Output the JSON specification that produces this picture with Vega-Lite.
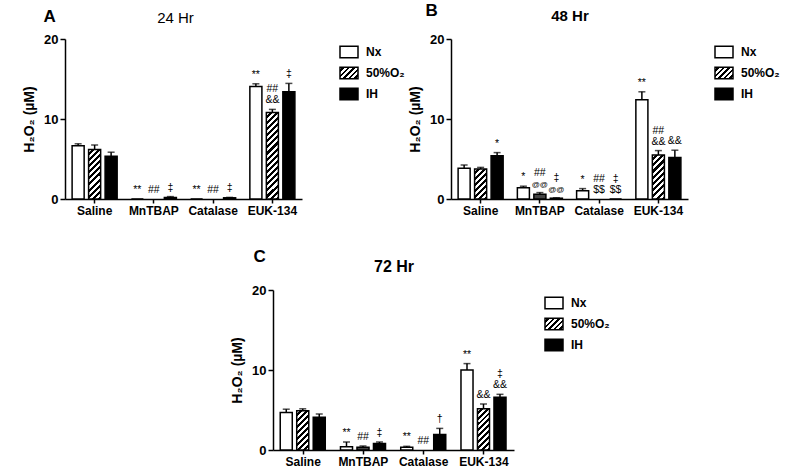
{
"$schema": "https://vega.github.io/schema/vega-lite/v6.json",
"padding": {"left": 22, "top": 2, "right": 0, "bottom": 0},
"background": "white",
"config": {
  "font": "Liberation Sans",
  "view": {"stroke": null},
  "axis": {"domainColor": "black", "domainWidth": 1.5, "tickColor": "black", "tickWidth": 1.5, "labelColor": "black", "labelFontSize": 12, "labelFontWeight": "bold", "titleColor": "black", "titleFontSize": 14, "titleFontWeight": "bold", "grid": false},
  "axisX": {"tickSize": 4, "labelPadding": 2},
  "axisY": {"tickSize": 5, "labelPadding": 2, "titlePadding": 7, "labelFontSize": 13},
  "legend": {"labelColor": "black", "title": null, "orient": "right", "padding": 3, "symbolType": "M-1,-0.65H1V0.65H-1Z", "symbolSize": 324, "symbolStrokeColor": "black", "symbolStrokeWidth": 1.5, "labelFontSize": 12, "labelFontWeight": "bold", "labelOffset": 7, "rowPadding": 2},
  "title": {"color": "black"}
},
"data": {"values": [
  {"panel": "A", "cat": "Saline", "grp": "Nx", "val": 6.65, "err": 6.9, "note": "", "note2": ""},
  {"panel": "A", "cat": "Saline", "grp": "50%O₂", "val": 6.2, "err": 6.75, "note": "", "note2": ""},
  {"panel": "A", "cat": "Saline", "grp": "IH", "val": 5.35, "err": 5.85, "note": "", "note2": ""},
  {"panel": "A", "cat": "MnTBAP", "grp": "Nx", "val": 0, "err": 0, "note": "**", "note2": ""},
  {"panel": "A", "cat": "MnTBAP", "grp": "50%O₂", "val": 0, "err": 0, "note": "##", "note2": ""},
  {"panel": "A", "cat": "MnTBAP", "grp": "IH", "val": 0.2, "err": 0.3, "note": "‡", "note2": ""},
  {"panel": "A", "cat": "Catalase", "grp": "Nx", "val": 0, "err": 0, "note": "**", "note2": ""},
  {"panel": "A", "cat": "Catalase", "grp": "50%O₂", "val": 0, "err": 0, "note": "##", "note2": ""},
  {"panel": "A", "cat": "Catalase", "grp": "IH", "val": 0.15, "err": 0.2, "note": "‡", "note2": ""},
  {"panel": "A", "cat": "EUK-134", "grp": "Nx", "val": 14.05, "err": 14.4, "note": "**", "note2": ""},
  {"panel": "A", "cat": "EUK-134", "grp": "50%O₂", "val": 10.8, "err": 11.2, "note": "&&", "note2": "##"},
  {"panel": "A", "cat": "EUK-134", "grp": "IH", "val": 13.4, "err": 14.45, "note": "‡", "note2": ""},
  {"panel": "B", "cat": "Saline", "grp": "Nx", "val": 3.83, "err": 4.25, "note": "", "note2": ""},
  {"panel": "B", "cat": "Saline", "grp": "50%O₂", "val": 3.75, "err": 3.95, "note": "", "note2": ""},
  {"panel": "B", "cat": "Saline", "grp": "IH", "val": 5.42, "err": 5.8, "note": "*", "note2": ""},
  {"panel": "B", "cat": "MnTBAP", "grp": "Nx", "val": 1.42, "err": 1.6, "note": "*", "note2": ""},
  {"panel": "B", "cat": "MnTBAP", "grp": "50%O₂", "val": 0.58, "err": 0.8, "note": "@@", "note2": "##"},
  {"panel": "B", "cat": "MnTBAP", "grp": "IH", "val": 0.1, "err": 0.15, "note": "@@", "note2": "‡"},
  {"panel": "B", "cat": "Catalase", "grp": "Nx", "val": 1.04, "err": 1.3, "note": "*", "note2": ""},
  {"panel": "B", "cat": "Catalase", "grp": "50%O₂", "val": 0, "err": 0, "note": "$$", "note2": "##"},
  {"panel": "B", "cat": "Catalase", "grp": "IH", "val": 0, "err": 0, "note": "$$", "note2": "‡"},
  {"panel": "B", "cat": "EUK-134", "grp": "Nx", "val": 12.4, "err": 13.4, "note": "**", "note2": ""},
  {"panel": "B", "cat": "EUK-134", "grp": "50%O₂", "val": 5.5, "err": 6.05, "note": "&&", "note2": "##"},
  {"panel": "B", "cat": "EUK-134", "grp": "IH", "val": 5.2, "err": 6.1, "note": "&&", "note2": ""},
  {"panel": "C", "cat": "Saline", "grp": "Nx", "val": 4.7, "err": 5.1, "note": "", "note2": ""},
  {"panel": "C", "cat": "Saline", "grp": "50%O₂", "val": 4.9, "err": 5.15, "note": "", "note2": ""},
  {"panel": "C", "cat": "Saline", "grp": "IH", "val": 4.1, "err": 4.5, "note": "", "note2": ""},
  {"panel": "C", "cat": "MnTBAP", "grp": "Nx", "val": 0.42, "err": 1.0, "note": "**", "note2": ""},
  {"panel": "C", "cat": "MnTBAP", "grp": "50%O₂", "val": 0.33, "err": 0.5, "note": "##", "note2": ""},
  {"panel": "C", "cat": "MnTBAP", "grp": "IH", "val": 0.8, "err": 1.0, "note": "‡", "note2": ""},
  {"panel": "C", "cat": "Catalase", "grp": "Nx", "val": 0.33, "err": 0.46, "note": "**", "note2": ""},
  {"panel": "C", "cat": "Catalase", "grp": "50%O₂", "val": 0, "err": 0, "note": "##", "note2": ""},
  {"panel": "C", "cat": "Catalase", "grp": "IH", "val": 1.93, "err": 2.7, "note": "†", "note2": ""},
  {"panel": "C", "cat": "EUK-134", "grp": "Nx", "val": 10.0, "err": 10.8, "note": "**", "note2": ""},
  {"panel": "C", "cat": "EUK-134", "grp": "50%O₂", "val": 5.16, "err": 5.75, "note": "&&", "note2": ""},
  {"panel": "C", "cat": "EUK-134", "grp": "IH", "val": 6.58, "err": 6.96, "note": "&&", "note2": "‡"}
]},
"spacing": 32,
"resolve": {"scale": {"fill": "independent"}, "legend": {"fill": "independent"}},
"vconcat": [
{"hconcat": [
{
 "width": 237, "height": 160,
 "title": {"text": "A", "anchor": "start", "frame": "bounds", "fontSize": 17, "fontWeight": "bold", "dx": 21, "offset": -16},
 "transform": [{"filter": "datum.panel === 'A'"}],
 "resolve": {"axis": {"x": "independent"}},
 "layer": [
  {"transform": [{"filter": "datum.grp !== '50%O₂'"}],
   "mark": {"type": "bar", "stroke": "black", "strokeWidth": 1.5},
   "encoding": {
    "x": {"field": "cat", "type": "nominal", "scale": {"domain": ["Saline","MnTBAP","Catalase","EUK-134"], "paddingInner": 0.24, "paddingOuter": 0.12}, "axis": {"title": null, "labelAngle": 0, "orient": "bottom"}},
    "xOffset": {"field": "grp", "type": "nominal", "scale": {"domain": ["Nx","50%O₂","IH"], "paddingInner": 0.27, "paddingOuter": 0}},
    "y": {"field": "val", "type": "quantitative", "title": "H₂O₂ (µM)", "scale": {"domain": [0,20], "nice": false}, "axis": {"values": [0,5,10,15,20]}},
    "fill": {"field": "grp", "type": "nominal", "scale": {"domain": ["Nx","50%O₂","IH"], "range": ["white", {"expr": "{gradient: 'linear', x1: 0, y1: 0, x2: 1.16, y2: 0.754, stops: [{offset: 0, color: '#fff'}, {offset: 0.0909, color: '#fff'}, {offset: 0.0909, color: '#000'}, {offset: 0.1818, color: '#000'}, {offset: 0.1818, color: '#fff'}, {offset: 0.2727, color: '#fff'}, {offset: 0.2727, color: '#000'}, {offset: 0.3636, color: '#000'}, {offset: 0.3636, color: '#fff'}, {offset: 0.4545, color: '#fff'}, {offset: 0.4545, color: '#000'}, {offset: 0.5455, color: '#000'}, {offset: 0.5455, color: '#fff'}, {offset: 0.6364, color: '#fff'}, {offset: 0.6364, color: '#000'}, {offset: 0.7273, color: '#000'}, {offset: 0.7273, color: '#fff'}, {offset: 0.8182, color: '#fff'}, {offset: 0.8182, color: '#000'}, {offset: 0.9091, color: '#000'}, {offset: 0.9091, color: '#fff'}, {offset: 1, color: '#fff'}]}"}, "black"]},
      "legend": {"offset": 34}}
   }},
  {"transform": [{"filter": "datum.grp === '50%O₂' && datum.cat === 'Saline'"}],
   "mark": {"type": "bar", "stroke": "black", "strokeWidth": 1.5, "fill": {"gradient": "linear", "x1": 0, "y1": 0, "x2": 0.2839, "y2": 1.1733, "stops": [{"offset":0,"color":"#fff"},{"offset":0.05,"color":"#fff"},{"offset":0.05,"color":"#000"},{"offset":0.1,"color":"#000"},{"offset":0.1,"color":"#fff"},{"offset":0.15,"color":"#fff"},{"offset":0.15,"color":"#000"},{"offset":0.2,"color":"#000"},{"offset":0.2,"color":"#fff"},{"offset":0.25,"color":"#fff"},{"offset":0.25,"color":"#000"},{"offset":0.3,"color":"#000"},{"offset":0.3,"color":"#fff"},{"offset":0.35,"color":"#fff"},{"offset":0.35,"color":"#000"},{"offset":0.4,"color":"#000"},{"offset":0.4,"color":"#fff"},{"offset":0.45,"color":"#fff"},{"offset":0.45,"color":"#000"},{"offset":0.5,"color":"#000"},{"offset":0.5,"color":"#fff"},{"offset":0.55,"color":"#fff"},{"offset":0.55,"color":"#000"},{"offset":0.6,"color":"#000"},{"offset":0.6,"color":"#fff"},{"offset":0.65,"color":"#fff"},{"offset":0.65,"color":"#000"},{"offset":0.7,"color":"#000"},{"offset":0.7,"color":"#fff"},{"offset":0.75,"color":"#fff"},{"offset":0.75,"color":"#000"},{"offset":0.8,"color":"#000"},{"offset":0.8,"color":"#fff"},{"offset":0.85,"color":"#fff"},{"offset":0.85,"color":"#000"},{"offset":0.9,"color":"#000"},{"offset":0.9,"color":"#fff"},{"offset":0.95,"color":"#fff"},{"offset":0.95,"color":"#000"},{"offset":1,"color":"#000"}]}},
   "encoding": {
    "x": {"field": "cat", "type": "nominal", "scale": {"domain": ["Saline","MnTBAP","Catalase","EUK-134"]}, "axis": null},
    "xOffset": {"field": "grp", "type": "nominal", "scale": {"domain": ["Nx","50%O₂","IH"]}},
    "y": {"field": "val", "type": "quantitative", "title": "H₂O₂ (µM)"}
   }},
  {"transform": [{"filter": "datum.grp === '50%O₂' && datum.cat === 'EUK-134'"}],
   "mark": {"type": "bar", "stroke": "black", "strokeWidth": 1.5, "fill": {"gradient": "linear", "x1": 0, "y1": 0, "x2": 0.1552, "y2": 1.1173, "stops": [{"offset":0,"color":"#fff"},{"offset":0.03125,"color":"#fff"},{"offset":0.03125,"color":"#000"},{"offset":0.0625,"color":"#000"},{"offset":0.0625,"color":"#fff"},{"offset":0.09375,"color":"#fff"},{"offset":0.09375,"color":"#000"},{"offset":0.125,"color":"#000"},{"offset":0.125,"color":"#fff"},{"offset":0.15625,"color":"#fff"},{"offset":0.15625,"color":"#000"},{"offset":0.1875,"color":"#000"},{"offset":0.1875,"color":"#fff"},{"offset":0.21875,"color":"#fff"},{"offset":0.21875,"color":"#000"},{"offset":0.25,"color":"#000"},{"offset":0.25,"color":"#fff"},{"offset":0.28125,"color":"#fff"},{"offset":0.28125,"color":"#000"},{"offset":0.3125,"color":"#000"},{"offset":0.3125,"color":"#fff"},{"offset":0.34375,"color":"#fff"},{"offset":0.34375,"color":"#000"},{"offset":0.375,"color":"#000"},{"offset":0.375,"color":"#fff"},{"offset":0.40625,"color":"#fff"},{"offset":0.40625,"color":"#000"},{"offset":0.4375,"color":"#000"},{"offset":0.4375,"color":"#fff"},{"offset":0.46875,"color":"#fff"},{"offset":0.46875,"color":"#000"},{"offset":0.5,"color":"#000"},{"offset":0.5,"color":"#fff"},{"offset":0.53125,"color":"#fff"},{"offset":0.53125,"color":"#000"},{"offset":0.5625,"color":"#000"},{"offset":0.5625,"color":"#fff"},{"offset":0.59375,"color":"#fff"},{"offset":0.59375,"color":"#000"},{"offset":0.625,"color":"#000"},{"offset":0.625,"color":"#fff"},{"offset":0.65625,"color":"#fff"},{"offset":0.65625,"color":"#000"},{"offset":0.6875,"color":"#000"},{"offset":0.6875,"color":"#fff"},{"offset":0.71875,"color":"#fff"},{"offset":0.71875,"color":"#000"},{"offset":0.75,"color":"#000"},{"offset":0.75,"color":"#fff"},{"offset":0.78125,"color":"#fff"},{"offset":0.78125,"color":"#000"},{"offset":0.8125,"color":"#000"},{"offset":0.8125,"color":"#fff"},{"offset":0.84375,"color":"#fff"},{"offset":0.84375,"color":"#000"},{"offset":0.875,"color":"#000"},{"offset":0.875,"color":"#fff"},{"offset":0.90625,"color":"#fff"},{"offset":0.90625,"color":"#000"},{"offset":0.9375,"color":"#000"},{"offset":0.9375,"color":"#fff"},{"offset":0.96875,"color":"#fff"},{"offset":0.96875,"color":"#000"},{"offset":1,"color":"#000"}]}},
   "encoding": {
    "x": {"field": "cat", "type": "nominal", "scale": {"domain": ["Saline","MnTBAP","Catalase","EUK-134"]}, "axis": null},
    "xOffset": {"field": "grp", "type": "nominal", "scale": {"domain": ["Nx","50%O₂","IH"]}},
    "y": {"field": "val", "type": "quantitative", "title": "H₂O₂ (µM)"}
   }},
  {"transform": [{"filter": "datum.err > datum.val"}],
   "mark": {"type": "rule", "color": "black", "strokeWidth": 1.5},
   "encoding": {
    "x": {"field": "cat", "type": "nominal", "scale": {"domain": ["Saline","MnTBAP","Catalase","EUK-134"]}, "axis": {"orient": "top", "title": "24 Hr", "labels": false, "ticks": false, "domain": false, "titleFontSize": 15, "titleFontWeight": "normal", "titlePadding": 14, "titleX": 110, "titleAlign": "center"}},
    "xOffset": {"field": "grp", "type": "nominal", "scale": {"domain": ["Nx","50%O₂","IH"]}},
    "y": {"field": "val", "type": "quantitative", "title": "H₂O₂ (µM)"},
    "y2": {"field": "err"}
   }},
  {"transform": [{"filter": "datum.err > datum.val"}],
   "mark": {"type": "tick", "color": "black", "orient": "horizontal", "size": 7, "thickness": 1.5},
   "encoding": {
    "x": {"field": "cat", "type": "nominal", "scale": {"domain": ["Saline","MnTBAP","Catalase","EUK-134"]}, "axis": null},
    "xOffset": {"field": "grp", "type": "nominal", "scale": {"domain": ["Nx","50%O₂","IH"]}},
    "y": {"field": "err", "type": "quantitative", "title": "H₂O₂ (µM)"}
   }},
  {"transform": [{"filter": "datum.note !== ''"}],
   "mark": {"type": "text", "baseline": "bottom", "dy": -4, "color": "black"},
   "encoding": {
    "x": {"field": "cat", "type": "nominal", "scale": {"domain": ["Saline","MnTBAP","Catalase","EUK-134"]}, "axis": null},
    "xOffset": {"field": "grp", "type": "nominal", "scale": {"domain": ["Nx","50%O₂","IH"]}},
    "y": {"field": "err", "type": "quantitative", "title": "H₂O₂ (µM)"},
    "size": {"condition": {"test": "datum.note === '@@'", "value": 8}, "value": 10.5},
    "text": {"field": "note"}
   }},
  {"transform": [{"filter": "datum.note2 !== ''"}],
   "mark": {"type": "text", "baseline": "bottom", "dy": -15, "fontSize": 10.5, "color": "black"},
   "encoding": {
    "x": {"field": "cat", "type": "nominal", "scale": {"domain": ["Saline","MnTBAP","Catalase","EUK-134"]}, "axis": null},
    "xOffset": {"field": "grp", "type": "nominal", "scale": {"domain": ["Nx","50%O₂","IH"]}},
    "y": {"field": "err", "type": "quantitative", "title": "H₂O₂ (µM)"},
    "text": {"field": "note2"}
   }}
 ]
},
{
 "width": 237, "height": 160,
 "title": {"text": "B", "anchor": "start", "frame": "bounds", "fontSize": 17, "fontWeight": "bold", "dx": 17, "offset": -12},
 "transform": [{"filter": "datum.panel === 'B'"}],
 "resolve": {"axis": {"x": "independent"}},
 "layer": [
  {"transform": [{"filter": "datum.grp !== '50%O₂'"}],
   "mark": {"type": "bar", "stroke": "black", "strokeWidth": 1.5},
   "encoding": {
    "x": {"field": "cat", "type": "nominal", "scale": {"domain": ["Saline","MnTBAP","Catalase","EUK-134"], "paddingInner": 0.24, "paddingOuter": 0.12}, "axis": {"title": null, "labelAngle": 0, "orient": "bottom"}},
    "xOffset": {"field": "grp", "type": "nominal", "scale": {"domain": ["Nx","50%O₂","IH"], "paddingInner": 0.27, "paddingOuter": 0}},
    "y": {"field": "val", "type": "quantitative", "title": "H₂O₂ (µM)", "scale": {"domain": [0,20], "nice": false}, "axis": {"values": [0,5,10,15,20]}},
    "fill": {"field": "grp", "type": "nominal", "scale": {"domain": ["Nx","50%O₂","IH"], "range": ["white", {"expr": "{gradient: 'linear', x1: 0, y1: 0, x2: 1.16, y2: 0.754, stops: [{offset: 0, color: '#fff'}, {offset: 0.0909, color: '#fff'}, {offset: 0.0909, color: '#000'}, {offset: 0.1818, color: '#000'}, {offset: 0.1818, color: '#fff'}, {offset: 0.2727, color: '#fff'}, {offset: 0.2727, color: '#000'}, {offset: 0.3636, color: '#000'}, {offset: 0.3636, color: '#fff'}, {offset: 0.4545, color: '#fff'}, {offset: 0.4545, color: '#000'}, {offset: 0.5455, color: '#000'}, {offset: 0.5455, color: '#fff'}, {offset: 0.6364, color: '#fff'}, {offset: 0.6364, color: '#000'}, {offset: 0.7273, color: '#000'}, {offset: 0.7273, color: '#fff'}, {offset: 0.8182, color: '#fff'}, {offset: 0.8182, color: '#000'}, {offset: 0.9091, color: '#000'}, {offset: 0.9091, color: '#fff'}, {offset: 1, color: '#fff'}]}"}, "black"]},
      "legend": {"offset": 23}}
   }},
  {"transform": [{"filter": "datum.grp === '50%O₂' && datum.cat === 'Saline'"}],
   "mark": {"type": "bar", "stroke": "black", "strokeWidth": 1.5, "fill": {"gradient": "linear", "x1": 0, "y1": 0, "x2": 0.4828, "y2": 1.2069, "stops": [{"offset":0,"color":"#fff"},{"offset":0.0714,"color":"#fff"},{"offset":0.0714,"color":"#000"},{"offset":0.1429,"color":"#000"},{"offset":0.1429,"color":"#fff"},{"offset":0.2143,"color":"#fff"},{"offset":0.2143,"color":"#000"},{"offset":0.2857,"color":"#000"},{"offset":0.2857,"color":"#fff"},{"offset":0.3571,"color":"#fff"},{"offset":0.3571,"color":"#000"},{"offset":0.4286,"color":"#000"},{"offset":0.4286,"color":"#fff"},{"offset":0.5,"color":"#fff"},{"offset":0.5,"color":"#000"},{"offset":0.5714,"color":"#000"},{"offset":0.5714,"color":"#fff"},{"offset":0.6429,"color":"#fff"},{"offset":0.6429,"color":"#000"},{"offset":0.7143,"color":"#000"},{"offset":0.7143,"color":"#fff"},{"offset":0.7857,"color":"#fff"},{"offset":0.7857,"color":"#000"},{"offset":0.8571,"color":"#000"},{"offset":0.8571,"color":"#fff"},{"offset":0.9286,"color":"#fff"},{"offset":0.9286,"color":"#000"},{"offset":1,"color":"#000"}]}},
   "encoding": {
    "x": {"field": "cat", "type": "nominal", "scale": {"domain": ["Saline","MnTBAP","Catalase","EUK-134"]}, "axis": null},
    "xOffset": {"field": "grp", "type": "nominal", "scale": {"domain": ["Nx","50%O₂","IH"]}},
    "y": {"field": "val", "type": "quantitative", "title": "H₂O₂ (µM)"}
   }},
  {"transform": [{"filter": "datum.grp === '50%O₂' && datum.cat === 'EUK-134'"}],
   "mark": {"type": "bar", "stroke": "black", "strokeWidth": 1.5, "fill": {"gradient": "linear", "x1": 0, "y1": 0, "x2": 0.3231, "y2": 1.1846, "stops": [{"offset":0,"color":"#fff"},{"offset":0.0556,"color":"#fff"},{"offset":0.0556,"color":"#000"},{"offset":0.1111,"color":"#000"},{"offset":0.1111,"color":"#fff"},{"offset":0.1667,"color":"#fff"},{"offset":0.1667,"color":"#000"},{"offset":0.2222,"color":"#000"},{"offset":0.2222,"color":"#fff"},{"offset":0.2778,"color":"#fff"},{"offset":0.2778,"color":"#000"},{"offset":0.3333,"color":"#000"},{"offset":0.3333,"color":"#fff"},{"offset":0.3889,"color":"#fff"},{"offset":0.3889,"color":"#000"},{"offset":0.4444,"color":"#000"},{"offset":0.4444,"color":"#fff"},{"offset":0.5,"color":"#fff"},{"offset":0.5,"color":"#000"},{"offset":0.5556,"color":"#000"},{"offset":0.5556,"color":"#fff"},{"offset":0.6111,"color":"#fff"},{"offset":0.6111,"color":"#000"},{"offset":0.6667,"color":"#000"},{"offset":0.6667,"color":"#fff"},{"offset":0.7222,"color":"#fff"},{"offset":0.7222,"color":"#000"},{"offset":0.7778,"color":"#000"},{"offset":0.7778,"color":"#fff"},{"offset":0.8333,"color":"#fff"},{"offset":0.8333,"color":"#000"},{"offset":0.8889,"color":"#000"},{"offset":0.8889,"color":"#fff"},{"offset":0.9444,"color":"#fff"},{"offset":0.9444,"color":"#000"},{"offset":1,"color":"#000"}]}},
   "encoding": {
    "x": {"field": "cat", "type": "nominal", "scale": {"domain": ["Saline","MnTBAP","Catalase","EUK-134"]}, "axis": null},
    "xOffset": {"field": "grp", "type": "nominal", "scale": {"domain": ["Nx","50%O₂","IH"]}},
    "y": {"field": "val", "type": "quantitative", "title": "H₂O₂ (µM)"}
   }},
  {"transform": [{"filter": "datum.grp === '50%O₂' && datum.val > 0 && datum.val < 1"}],
   "mark": {"type": "bar", "stroke": "black", "strokeWidth": 1.5, "fill": "#444444"},
   "encoding": {
    "x": {"field": "cat", "type": "nominal", "scale": {"domain": ["Saline","MnTBAP","Catalase","EUK-134"]}, "axis": null},
    "xOffset": {"field": "grp", "type": "nominal", "scale": {"domain": ["Nx","50%O₂","IH"]}},
    "y": {"field": "val", "type": "quantitative", "title": "H₂O₂ (µM)"}
   }},
  {"transform": [{"filter": "datum.err > datum.val"}],
   "mark": {"type": "rule", "color": "black", "strokeWidth": 1.5},
   "encoding": {
    "x": {"field": "cat", "type": "nominal", "scale": {"domain": ["Saline","MnTBAP","Catalase","EUK-134"]}, "axis": {"orient": "top", "title": "48 Hr", "labels": false, "ticks": false, "domain": false, "titleFontSize": 15, "titleFontWeight": "bold", "titlePadding": 16}},
    "xOffset": {"field": "grp", "type": "nominal", "scale": {"domain": ["Nx","50%O₂","IH"]}},
    "y": {"field": "val", "type": "quantitative", "title": "H₂O₂ (µM)"},
    "y2": {"field": "err"}
   }},
  {"transform": [{"filter": "datum.err > datum.val"}],
   "mark": {"type": "tick", "color": "black", "orient": "horizontal", "size": 7, "thickness": 1.5},
   "encoding": {
    "x": {"field": "cat", "type": "nominal", "scale": {"domain": ["Saline","MnTBAP","Catalase","EUK-134"]}, "axis": null},
    "xOffset": {"field": "grp", "type": "nominal", "scale": {"domain": ["Nx","50%O₂","IH"]}},
    "y": {"field": "err", "type": "quantitative", "title": "H₂O₂ (µM)"}
   }},
  {"transform": [{"filter": "datum.note !== ''"}],
   "mark": {"type": "text", "baseline": "bottom", "dy": -4, "color": "black"},
   "encoding": {
    "x": {"field": "cat", "type": "nominal", "scale": {"domain": ["Saline","MnTBAP","Catalase","EUK-134"]}, "axis": null},
    "xOffset": {"field": "grp", "type": "nominal", "scale": {"domain": ["Nx","50%O₂","IH"]}},
    "y": {"field": "err", "type": "quantitative", "title": "H₂O₂ (µM)"},
    "size": {"condition": {"test": "datum.note === '@@'", "value": 8}, "value": 10.5},
    "text": {"field": "note"}
   }},
  {"transform": [{"filter": "datum.note2 !== ''"}],
   "mark": {"type": "text", "baseline": "bottom", "dy": -15, "fontSize": 10.5, "color": "black"},
   "encoding": {
    "x": {"field": "cat", "type": "nominal", "scale": {"domain": ["Saline","MnTBAP","Catalase","EUK-134"]}, "axis": null},
    "xOffset": {"field": "grp", "type": "nominal", "scale": {"domain": ["Nx","50%O₂","IH"]}},
    "y": {"field": "err", "type": "quantitative", "title": "H₂O₂ (µM)"},
    "text": {"field": "note2"}
   }}
 ]
}
], "spacing": 0, "resolve": {"scale": {"fill": "independent"}, "legend": {"fill": "independent"}}},
{"hconcat": [
{"width": 165, "height": 10, "data": {"values": []}, "mark": "point", "encoding": {}},
{
 "width": 241, "height": 160,
 "title": {"text": "C", "anchor": "start", "frame": "bounds", "fontSize": 17, "fontWeight": "bold", "dx": 23, "offset": -8},
 "transform": [{"filter": "datum.panel === 'C'"}],
 "resolve": {"axis": {"x": "independent"}},
 "layer": [
  {"transform": [{"filter": "datum.grp !== '50%O₂'"}],
   "mark": {"type": "bar", "stroke": "black", "strokeWidth": 1.5},
   "encoding": {
    "x": {"field": "cat", "type": "nominal", "scale": {"domain": ["Saline","MnTBAP","Catalase","EUK-134"], "paddingInner": 0.24, "paddingOuter": 0.12}, "axis": {"title": null, "labelAngle": 0, "orient": "bottom"}},
    "xOffset": {"field": "grp", "type": "nominal", "scale": {"domain": ["Nx","50%O₂","IH"], "paddingInner": 0.27, "paddingOuter": 0}},
    "y": {"field": "val", "type": "quantitative", "title": "H₂O₂ (µM)", "scale": {"domain": [0,20], "nice": false}, "axis": {"values": [0,5,10,15,20]}},
    "fill": {"field": "grp", "type": "nominal", "scale": {"domain": ["Nx","50%O₂","IH"], "range": ["white", {"expr": "{gradient: 'linear', x1: 0, y1: 0, x2: 1.16, y2: 0.754, stops: [{offset: 0, color: '#fff'}, {offset: 0.0909, color: '#fff'}, {offset: 0.0909, color: '#000'}, {offset: 0.1818, color: '#000'}, {offset: 0.1818, color: '#fff'}, {offset: 0.2727, color: '#fff'}, {offset: 0.2727, color: '#000'}, {offset: 0.3636, color: '#000'}, {offset: 0.3636, color: '#fff'}, {offset: 0.4545, color: '#fff'}, {offset: 0.4545, color: '#000'}, {offset: 0.5455, color: '#000'}, {offset: 0.5455, color: '#fff'}, {offset: 0.6364, color: '#fff'}, {offset: 0.6364, color: '#000'}, {offset: 0.7273, color: '#000'}, {offset: 0.7273, color: '#fff'}, {offset: 0.8182, color: '#fff'}, {offset: 0.8182, color: '#000'}, {offset: 0.9091, color: '#000'}, {offset: 0.9091, color: '#fff'}, {offset: 1, color: '#fff'}]}"}, "black"]},
      "legend": {"offset": 27}}
   }},
  {"transform": [{"filter": "datum.grp === '50%O₂' && datum.cat === 'Saline'"}],
   "mark": {"type": "bar", "stroke": "black", "strokeWidth": 1.5, "fill": {"gradient": "linear", "x1": 0, "y1": 0, "x2": 0.3656, "y2": 1.1942, "stops": [{"offset":0,"color":"#fff"},{"offset":0.0588,"color":"#fff"},{"offset":0.0588,"color":"#000"},{"offset":0.1176,"color":"#000"},{"offset":0.1176,"color":"#fff"},{"offset":0.1765,"color":"#fff"},{"offset":0.1765,"color":"#000"},{"offset":0.2353,"color":"#000"},{"offset":0.2353,"color":"#fff"},{"offset":0.2941,"color":"#fff"},{"offset":0.2941,"color":"#000"},{"offset":0.3529,"color":"#000"},{"offset":0.3529,"color":"#fff"},{"offset":0.4118,"color":"#fff"},{"offset":0.4118,"color":"#000"},{"offset":0.4706,"color":"#000"},{"offset":0.4706,"color":"#fff"},{"offset":0.5294,"color":"#fff"},{"offset":0.5294,"color":"#000"},{"offset":0.5882,"color":"#000"},{"offset":0.5882,"color":"#fff"},{"offset":0.6471,"color":"#fff"},{"offset":0.6471,"color":"#000"},{"offset":0.7059,"color":"#000"},{"offset":0.7059,"color":"#fff"},{"offset":0.7647,"color":"#fff"},{"offset":0.7647,"color":"#000"},{"offset":0.8235,"color":"#000"},{"offset":0.8235,"color":"#fff"},{"offset":0.8824,"color":"#fff"},{"offset":0.8824,"color":"#000"},{"offset":0.9412,"color":"#000"},{"offset":0.9412,"color":"#fff"},{"offset":1,"color":"#fff"}]}},
   "encoding": {
    "x": {"field": "cat", "type": "nominal", "scale": {"domain": ["Saline","MnTBAP","Catalase","EUK-134"]}, "axis": null},
    "xOffset": {"field": "grp", "type": "nominal", "scale": {"domain": ["Nx","50%O₂","IH"]}},
    "y": {"field": "val", "type": "quantitative", "title": "H₂O₂ (µM)"}
   }},
  {"transform": [{"filter": "datum.grp === '50%O₂' && datum.cat === 'EUK-134'"}],
   "mark": {"type": "bar", "stroke": "black", "strokeWidth": 1.5, "fill": {"gradient": "linear", "x1": 0, "y1": 0, "x2": 0.346, "y2": 1.1901, "stops": [{"offset":0,"color":"#fff"},{"offset":0.0556,"color":"#fff"},{"offset":0.0556,"color":"#000"},{"offset":0.1111,"color":"#000"},{"offset":0.1111,"color":"#fff"},{"offset":0.1667,"color":"#fff"},{"offset":0.1667,"color":"#000"},{"offset":0.2222,"color":"#000"},{"offset":0.2222,"color":"#fff"},{"offset":0.2778,"color":"#fff"},{"offset":0.2778,"color":"#000"},{"offset":0.3333,"color":"#000"},{"offset":0.3333,"color":"#fff"},{"offset":0.3889,"color":"#fff"},{"offset":0.3889,"color":"#000"},{"offset":0.4444,"color":"#000"},{"offset":0.4444,"color":"#fff"},{"offset":0.5,"color":"#fff"},{"offset":0.5,"color":"#000"},{"offset":0.5556,"color":"#000"},{"offset":0.5556,"color":"#fff"},{"offset":0.6111,"color":"#fff"},{"offset":0.6111,"color":"#000"},{"offset":0.6667,"color":"#000"},{"offset":0.6667,"color":"#fff"},{"offset":0.7222,"color":"#fff"},{"offset":0.7222,"color":"#000"},{"offset":0.7778,"color":"#000"},{"offset":0.7778,"color":"#fff"},{"offset":0.8333,"color":"#fff"},{"offset":0.8333,"color":"#000"},{"offset":0.8889,"color":"#000"},{"offset":0.8889,"color":"#fff"},{"offset":0.9444,"color":"#fff"},{"offset":0.9444,"color":"#000"},{"offset":1,"color":"#000"}]}},
   "encoding": {
    "x": {"field": "cat", "type": "nominal", "scale": {"domain": ["Saline","MnTBAP","Catalase","EUK-134"]}, "axis": null},
    "xOffset": {"field": "grp", "type": "nominal", "scale": {"domain": ["Nx","50%O₂","IH"]}},
    "y": {"field": "val", "type": "quantitative", "title": "H₂O₂ (µM)"}
   }},
  {"transform": [{"filter": "datum.grp === '50%O₂' && datum.val > 0 && datum.val < 1"}],
   "mark": {"type": "bar", "stroke": "black", "strokeWidth": 1.5, "fill": "#444444"},
   "encoding": {
    "x": {"field": "cat", "type": "nominal", "scale": {"domain": ["Saline","MnTBAP","Catalase","EUK-134"]}, "axis": null},
    "xOffset": {"field": "grp", "type": "nominal", "scale": {"domain": ["Nx","50%O₂","IH"]}},
    "y": {"field": "val", "type": "quantitative", "title": "H₂O₂ (µM)"}
   }},
  {"transform": [{"filter": "datum.err > datum.val"}],
   "mark": {"type": "rule", "color": "black", "strokeWidth": 1.5},
   "encoding": {
    "x": {"field": "cat", "type": "nominal", "scale": {"domain": ["Saline","MnTBAP","Catalase","EUK-134"]}, "axis": {"orient": "top", "title": "72 Hr", "labels": false, "ticks": false, "domain": false, "titleFontSize": 16, "titleFontWeight": "bold", "titlePadding": 16}},
    "xOffset": {"field": "grp", "type": "nominal", "scale": {"domain": ["Nx","50%O₂","IH"]}},
    "y": {"field": "val", "type": "quantitative", "title": "H₂O₂ (µM)"},
    "y2": {"field": "err"}
   }},
  {"transform": [{"filter": "datum.err > datum.val"}],
   "mark": {"type": "tick", "color": "black", "orient": "horizontal", "size": 7, "thickness": 1.5},
   "encoding": {
    "x": {"field": "cat", "type": "nominal", "scale": {"domain": ["Saline","MnTBAP","Catalase","EUK-134"]}, "axis": null},
    "xOffset": {"field": "grp", "type": "nominal", "scale": {"domain": ["Nx","50%O₂","IH"]}},
    "y": {"field": "err", "type": "quantitative", "title": "H₂O₂ (µM)"}
   }},
  {"transform": [{"filter": "datum.note !== ''"}],
   "mark": {"type": "text", "baseline": "bottom", "dy": -4, "color": "black"},
   "encoding": {
    "x": {"field": "cat", "type": "nominal", "scale": {"domain": ["Saline","MnTBAP","Catalase","EUK-134"]}, "axis": null},
    "xOffset": {"field": "grp", "type": "nominal", "scale": {"domain": ["Nx","50%O₂","IH"]}},
    "y": {"field": "err", "type": "quantitative", "title": "H₂O₂ (µM)"},
    "size": {"condition": {"test": "datum.note === '@@'", "value": 8}, "value": 10.5},
    "text": {"field": "note"}
   }},
  {"transform": [{"filter": "datum.note2 !== ''"}],
   "mark": {"type": "text", "baseline": "bottom", "dy": -15, "fontSize": 10.5, "color": "black"},
   "encoding": {
    "x": {"field": "cat", "type": "nominal", "scale": {"domain": ["Saline","MnTBAP","Catalase","EUK-134"]}, "axis": null},
    "xOffset": {"field": "grp", "type": "nominal", "scale": {"domain": ["Nx","50%O₂","IH"]}},
    "y": {"field": "err", "type": "quantitative", "title": "H₂O₂ (µM)"},
    "text": {"field": "note2"}
   }}
 ]
}
], "spacing": 0, "resolve": {"scale": {"fill": "independent"}, "legend": {"fill": "independent"}}}
]
}
